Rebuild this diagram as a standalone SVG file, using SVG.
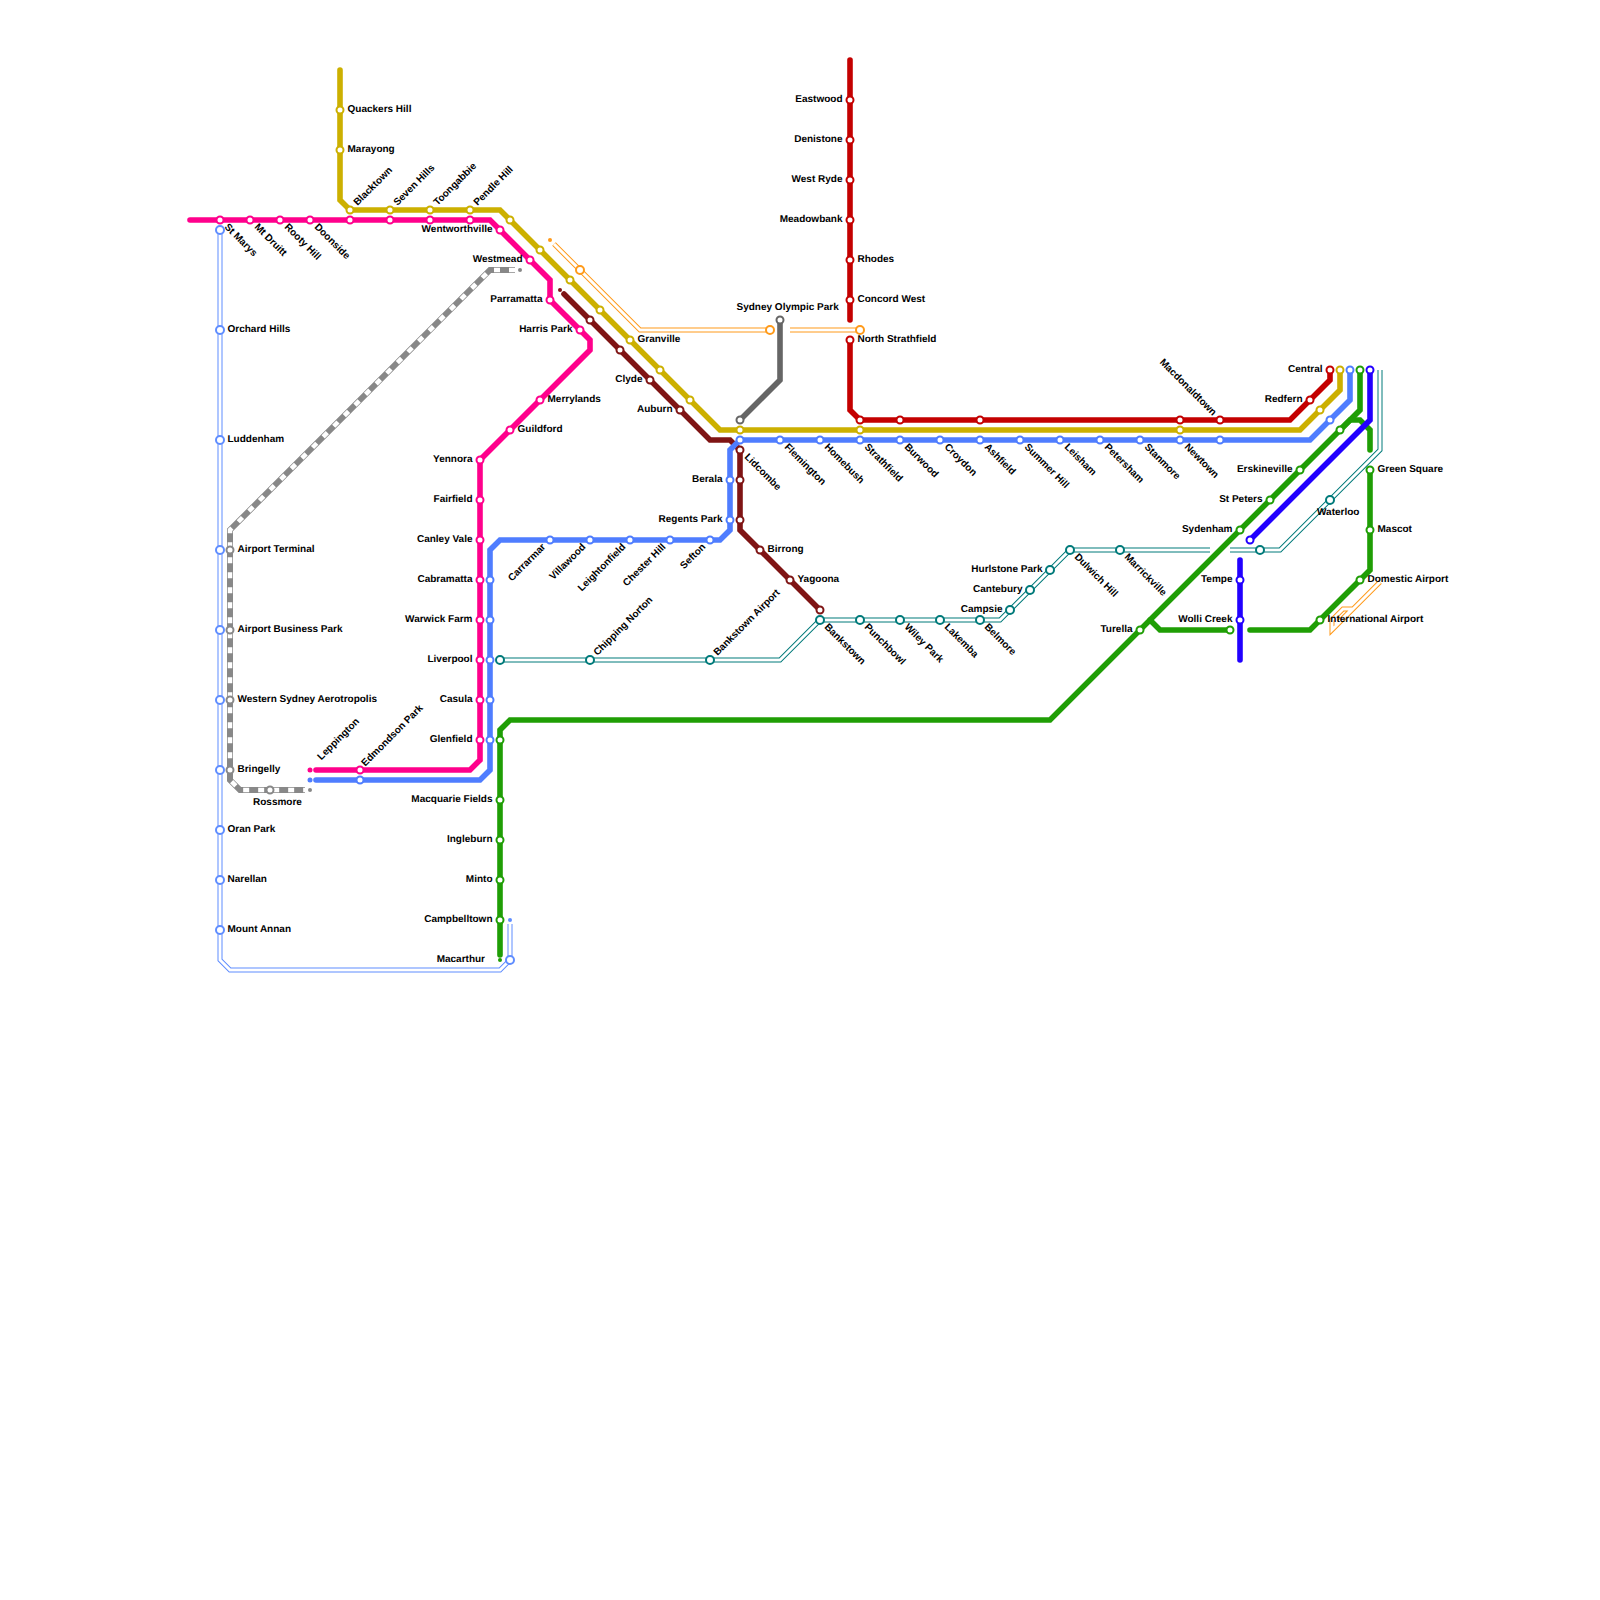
<svg xmlns="http://www.w3.org/2000/svg" width="1600" height="1600" viewBox="0 0 1600 1600">
<style>
svg{background:#fff}
.ln{fill:none;stroke-width:5.6;stroke-linecap:round;stroke-linejoin:miter}
.in{fill:none;stroke:#fff;stroke-width:3}
.db{fill:none;stroke-width:5}
.s{fill:#fff;stroke-width:2}
.b{fill:#fff;stroke-width:2}
text{font:bold 10px "Liberation Sans",Arial,sans-serif;fill:#000;text-rendering:geometricPrecision}
.e{text-anchor:end}
.pk{stroke:#ff008c}.au{stroke:#ccb000}.bl{stroke:#4f7dff}.mr{stroke:#7f1414}.rd{stroke:#c40000}.gn{stroke:#1f9e05}.ig{stroke:#2200ff}.tl{stroke:#007a7a}.gy{stroke:#888}.dg{stroke:#666}.or{stroke:#ff9a1a}.lb{stroke:#5f8dff}
.fpk{fill:#ff008c}.fbl{fill:#4f7dff}.fmr{fill:#7f1414}.fgn{fill:#1f9e05}.fgy{fill:#888}.for{fill:#ff9a1a}.flb{fill:#5f8dff}
</style>
<defs>
<circle id="st" r="3.5"/>
<circle id="bg" r="4"/>
</defs>
<g id="connectors">
<path class="db lb" d="M220,230V960L230,970H500L510,960V924"/><path class="in" d="M220,230V960L230,970H500L510,960V924"/>
<path class="db tl" d="M500,660H780L820,620H1000L1070,550H1210"/><path class="in" d="M500,660H780L820,620H1000L1070,550H1210"/>
<path class="db tl" d="M1230,550H1280L1380,450V370"/><path class="in" d="M1230,550H1280L1380,450V370"/>
<path class="db or" d="M554,244L640,330H770"/><path class="in" d="M554,244L640,330H770"/>
<path class="db or" d="M790,330H860"/><path class="in" d="M790,330H860"/>
<path class="db or" d="M1380,582L1332,630V620L1343,609H1352L1336,625V616L1343,609"/><path class="in" d="M1380,582L1332,630V620L1343,609H1352L1336,625V616L1343,609"/>
<path class="ln gy" style="stroke-linecap:butt;stroke-width:6" d="M515,270H490L230,530V780L240,790H305"/>
<path fill="none" stroke="#fff" stroke-width="4.5" stroke-dasharray="6 9" d="M515,270H490L230,530V780L240,790H305"/>
<path class="ln pk" d="M190,220H490L550,280V300L590,340V350L480,460V760L470,770H316"/>
<path class="ln au" d="M340,70V200L350,210H500L720,430H1300L1340,390V370"/>
<path class="ln mr" d="M564,294L710,440H730L740,450V530L820,610"/>
<path class="ln bl" d="M316,780H480L490,770V550L500,540H720L730,530V450L740,440H1310L1350,400V370"/>
<path class="ln dg" d="M780,320V380L740,420"/>
<path class="ln rd" d="M850,60V320"/>
<path class="ln rd" d="M850,340V410L860,420H1290L1330,380V370"/>
<path class="ln gn" d="M500,955V730L510,720H1050L1360,410V370"/>
<path class="ln gn" d="M1340,430L1350,420H1360L1370,430V450"/>
<path class="ln gn" d="M1370,470V570L1310,630H1250"/>
<path class="ln gn" d="M1150,620L1160,630H1230"/>
<path class="ln ig" d="M1370,370V420L1250,540"/>
<path class="ln ig" d="M1240,560V660"/>
</g>
<g id="nodes">
<g id="quakers-hill" transform="translate(340,110)"><use href="#st" class="s au"/><text x="7.5" y="2">Quackers Hill</text></g>
<g id="marayong" transform="translate(340,150)"><use href="#st" class="s au"/><text x="7.5" y="2">Marayong</text></g>
<g id="blacktown" transform="translate(350,210)"><use href="#st" class="s au"/><text x="8" y="2.5" transform="rotate(-45)">Blacktown</text></g>
<g id="seven-hills" transform="translate(390,210)"><use href="#st" class="s au"/><text x="8" y="2.5" transform="rotate(-45)">Seven Hills</text></g>
<g id="toongabbie" transform="translate(430,210)"><use href="#st" class="s au"/><text x="8" y="2.5" transform="rotate(-45)">Toongabbie</text></g>
<g id="pendle-hill" transform="translate(470,210)"><use href="#st" class="s au"/><text x="8" y="2.5" transform="rotate(-45)">Pendle Hill</text></g>
<g id="gold-510" transform="translate(510,220)"><use href="#st" class="s au"/></g>
<g id="gold-540" transform="translate(540,250)"><use href="#st" class="s au"/></g>
<g id="gold-570" transform="translate(570,280)"><use href="#st" class="s au"/></g>
<g id="gold-600" transform="translate(600,310)"><use href="#st" class="s au"/></g>
<g id="granville" transform="translate(630,340)"><use href="#st" class="s au"/><text x="7.5" y="2">Granville</text></g>
<g id="gold-660" transform="translate(660,370)"><use href="#st" class="s au"/></g>
<g id="gold-690" transform="translate(690,400)"><use href="#st" class="s au"/></g>
<g id="gold-740" transform="translate(740,430)"><use href="#st" class="s au"/></g>
<g id="gold-860" transform="translate(860,430)"><use href="#st" class="s au"/></g>
<g id="gold-1180" transform="translate(1180,430)"><use href="#st" class="s au"/></g>
<g id="gold-1320" transform="translate(1320,410)"><use href="#st" class="s au"/></g>
<g id="gold-1340" transform="translate(1340,370)"><use href="#st" class="s au"/></g>

<g id="st-marys" transform="translate(220,220)"><use href="#st" class="s pk"/><text x="8" y="2.5" transform="rotate(45)">St Marys</text></g>
<g id="mt-druitt" transform="translate(250,220)"><use href="#st" class="s pk"/><text x="8" y="2.5" transform="rotate(45)">Mt Druitt</text></g>
<g id="rooty-hill" transform="translate(280,220)"><use href="#st" class="s pk"/><text x="8" y="2.5" transform="rotate(45)">Rooty Hill</text></g>
<g id="doonside" transform="translate(310,220)"><use href="#st" class="s pk"/><text x="8" y="2.5" transform="rotate(45)">Doonside</text></g>
<g id="pink-350" transform="translate(350,220)"><use href="#st" class="s pk"/></g>
<g id="pink-390" transform="translate(390,220)"><use href="#st" class="s pk"/></g>
<g id="pink-430" transform="translate(430,220)"><use href="#st" class="s pk"/></g>
<g id="pink-470" transform="translate(470,220)"><use href="#st" class="s pk"/></g>
<g id="wentworthville" transform="translate(500,230)"><use href="#st" class="s pk"/><text class="e" x="-7.5" y="2">Wentworthville</text></g>
<g id="westmead" transform="translate(530,260)"><use href="#st" class="s pk"/><text class="e" x="-7.5" y="2">Westmead</text></g>
<g id="parramatta" transform="translate(550,300)"><use href="#st" class="s pk"/><text class="e" x="-7.5" y="2">Parramatta</text></g>
<g id="harris-park" transform="translate(580,330)"><use href="#st" class="s pk"/><text class="e" x="-7.5" y="2">Harris Park</text></g>
<g id="merrylands" transform="translate(540,400)"><use href="#st" class="s pk"/><text x="7.5" y="2">Merrylands</text></g>
<g id="guildford" transform="translate(510,430)"><use href="#st" class="s pk"/><text x="7.5" y="2">Guildford</text></g>
<g id="yennora" transform="translate(480,460)"><use href="#st" class="s pk"/><text class="e" x="-7.5" y="2">Yennora</text></g>
<g id="fairfield" transform="translate(480,500)"><use href="#st" class="s pk"/><text class="e" x="-7.5" y="2">Fairfield</text></g>
<g id="canley-vale" transform="translate(480,540)"><use href="#st" class="s pk"/><text class="e" x="-7.5" y="2">Canley Vale</text></g>
<g id="cabramatta" transform="translate(480,580)"><use href="#st" class="s pk"/><text class="e" x="-7.5" y="2">Cabramatta</text></g>
<g id="warwick-farm" transform="translate(480,620)"><use href="#st" class="s pk"/><text class="e" x="-7.5" y="2">Warwick Farm</text></g>
<g id="liverpool" transform="translate(480,660)"><use href="#st" class="s pk"/><text class="e" x="-7.5" y="2">Liverpool</text></g>
<g id="casula" transform="translate(480,700)"><use href="#st" class="s pk"/><text class="e" x="-7.5" y="2">Casula</text></g>
<g id="glenfield" transform="translate(480,740)"><use href="#st" class="s pk"/><text class="e" x="-7.5" y="2">Glenfield</text></g>
<g id="edmondson-park" transform="translate(360,770)"><use href="#st" class="s pk"/><text x="6" y="1.5" transform="rotate(-45)">Edmondson Park</text></g>
<g id="leppington" transform="translate(310,770)"><circle r="2.5" class="fpk"/><text x="14.8" y="1.2" transform="rotate(-45)">Leppington</text></g>

<g id="blue-dot" transform="translate(310,780)"><circle r="2.5" class="fbl"/></g>
<g id="blue-360" transform="translate(360,780)"><use href="#st" class="s bl"/></g>
<g id="blue-490-740" transform="translate(490,740)"><use href="#st" class="s bl"/></g>
<g id="blue-490-700" transform="translate(490,700)"><use href="#st" class="s bl"/></g>
<g id="blue-490-660" transform="translate(490,660)"><use href="#st" class="s bl"/></g>
<g id="blue-490-620" transform="translate(490,620)"><use href="#st" class="s bl"/></g>
<g id="blue-490-580" transform="translate(490,580)"><use href="#st" class="s bl"/></g>
<g id="carrarmar" transform="translate(550,540)"><use href="#st" class="s bl"/><text class="e" x="-8" y="2.5" transform="rotate(-45)">Carrarmar</text></g>
<g id="villawood" transform="translate(590,540)"><use href="#st" class="s bl"/><text class="e" x="-8" y="2.5" transform="rotate(-45)">Villawood</text></g>
<g id="leightonfield" transform="translate(630,540)"><use href="#st" class="s bl"/><text class="e" x="-8" y="2.5" transform="rotate(-45)">Leightonfield</text></g>
<g id="chester-hill" transform="translate(670,540)"><use href="#st" class="s bl"/><text class="e" x="-8" y="2.5" transform="rotate(-45)">Chester Hill</text></g>
<g id="sefton" transform="translate(710,540)"><use href="#st" class="s bl"/><text class="e" x="-8" y="2.5" transform="rotate(-45)">Sefton</text></g>
<g id="regents-park" transform="translate(730,520)"><use href="#st" class="s bl"/><text class="e" x="-7.5" y="2">Regents Park</text></g>
<g id="berala" transform="translate(730,480)"><use href="#st" class="s bl"/><text class="e" x="-7.5" y="2">Berala</text></g>
<g id="blue-740" transform="translate(740,440)"><use href="#st" class="s bl"/></g>
<g id="flemington" transform="translate(780,440)"><use href="#st" class="s bl"/><text x="8" y="2.5" transform="rotate(45)">Flemington</text></g>
<g id="homebush" transform="translate(820,440)"><use href="#st" class="s bl"/><text x="8" y="2.5" transform="rotate(45)">Homebush</text></g>
<g id="strathfield" transform="translate(860,440)"><use href="#st" class="s bl"/><text x="8" y="2.5" transform="rotate(45)">Strathfield</text></g>
<g id="burwood" transform="translate(900,440)"><use href="#st" class="s bl"/><text x="8" y="2.5" transform="rotate(45)">Burwood</text></g>
<g id="croydon" transform="translate(940,440)"><use href="#st" class="s bl"/><text x="8" y="2.5" transform="rotate(45)">Croydon</text></g>
<g id="ashfield" transform="translate(980,440)"><use href="#st" class="s bl"/><text x="8" y="2.5" transform="rotate(45)">Ashfield</text></g>
<g id="summer-hill" transform="translate(1020,440)"><use href="#st" class="s bl"/><text x="8" y="2.5" transform="rotate(45)">Summer Hill</text></g>
<g id="leisham" transform="translate(1060,440)"><use href="#st" class="s bl"/><text x="8" y="2.5" transform="rotate(45)">Leisham</text></g>
<g id="petersham" transform="translate(1100,440)"><use href="#st" class="s bl"/><text x="8" y="2.5" transform="rotate(45)">Petersham</text></g>
<g id="stanmore" transform="translate(1140,440)"><use href="#st" class="s bl"/><text x="8" y="2.5" transform="rotate(45)">Stanmore</text></g>
<g id="newtown" transform="translate(1180,440)"><use href="#st" class="s bl"/><text x="8" y="2.5" transform="rotate(45)">Newtown</text></g>
<g id="blue-1220" transform="translate(1220,440)"><use href="#st" class="s bl"/></g>
<g id="blue-1330" transform="translate(1330,420)"><use href="#st" class="s bl"/></g>
<g id="blue-1350" transform="translate(1350,370)"><use href="#st" class="s bl"/></g>

<g id="maroon-dot" transform="translate(560,290)"><circle r="2" class="fmr"/></g>
<g id="maroon-590" transform="translate(590,320)"><use href="#st" class="s mr"/></g>
<g id="maroon-620" transform="translate(620,350)"><use href="#st" class="s mr"/></g>
<g id="clyde" transform="translate(650,380)"><use href="#st" class="s mr"/><text class="e" x="-7.5" y="2">Clyde</text></g>
<g id="auburn" transform="translate(680,410)"><use href="#st" class="s mr"/><text class="e" x="-7.5" y="2">Auburn</text></g>
<g id="lidcombe" transform="translate(740,450)"><use href="#st" class="s mr"/><text x="8" y="2.5" transform="rotate(45)">Lidcombe</text></g>
<g id="maroon-480" transform="translate(740,480)"><use href="#st" class="s mr"/></g>
<g id="maroon-520" transform="translate(740,520)"><use href="#st" class="s mr"/></g>
<g id="birrong" transform="translate(760,550)"><use href="#st" class="s mr"/><text x="7.5" y="2">Birrong</text></g>
<g id="yagoona" transform="translate(790,580)"><use href="#st" class="s mr"/><text x="7.5" y="2">Yagoona</text></g>
<g id="maroon-820" transform="translate(820,610)"><use href="#st" class="s mr"/></g>

<g id="eastwood" transform="translate(850,100)"><use href="#st" class="s rd"/><text class="e" x="-7.5" y="2">Eastwood</text></g>
<g id="denistone" transform="translate(850,140)"><use href="#st" class="s rd"/><text class="e" x="-7.5" y="2">Denistone</text></g>
<g id="west-ryde" transform="translate(850,180)"><use href="#st" class="s rd"/><text class="e" x="-7.5" y="2">West Ryde</text></g>
<g id="meadowbank" transform="translate(850,220)"><use href="#st" class="s rd"/><text class="e" x="-7.5" y="2">Meadowbank</text></g>
<g id="rhodes" transform="translate(850,260)"><use href="#st" class="s rd"/><text x="7.5" y="2">Rhodes</text></g>
<g id="concord-west" transform="translate(850,300)"><use href="#st" class="s rd"/><text x="7.5" y="2">Concord West</text></g>
<g id="north-strathfield" transform="translate(850,340)"><use href="#st" class="s rd"/><text x="7.5" y="2">North Strathfield</text></g>
<g id="red-860" transform="translate(860,420)"><use href="#st" class="s rd"/></g>
<g id="red-900" transform="translate(900,420)"><use href="#st" class="s rd"/></g>
<g id="red-980" transform="translate(980,420)"><use href="#st" class="s rd"/></g>
<g id="red-1180" transform="translate(1180,420)"><use href="#st" class="s rd"/></g>
<g id="macdonaldtown" transform="translate(1220,420)"><use href="#st" class="s rd"/><text class="e" x="-8" y="2.5" transform="rotate(45)">Macdonaldtown</text></g>
<g id="redfern" transform="translate(1310,400)"><use href="#st" class="s rd"/><text class="e" x="-7.5" y="2">Redfern</text></g>
<g id="central" transform="translate(1330,370)"><use href="#st" class="s rd"/><text class="e" x="-7.5" y="2">Central</text></g>

<g id="sydney-olympic-park" transform="translate(780,320)"><use href="#st" class="s dg"/><text x="-43.5" y="-10">Sydney Olympic Park</text></g>
<g id="grey-dark-740" transform="translate(740,420)"><use href="#st" class="s dg"/></g>

<g id="glenfield-green" transform="translate(500,740)"><use href="#st" class="s gn"/></g>
<g id="macquarie-fields" transform="translate(500,800)"><use href="#st" class="s gn"/><text class="e" x="-7.5" y="2">Macquarie Fields</text></g>
<g id="ingleburn" transform="translate(500,840)"><use href="#st" class="s gn"/><text class="e" x="-7.5" y="2">Ingleburn</text></g>
<g id="minto" transform="translate(500,880)"><use href="#st" class="s gn"/><text class="e" x="-7.5" y="2">Minto</text></g>
<g id="campbelltown" transform="translate(500,920)"><use href="#st" class="s gn"/><text class="e" x="-7.5" y="2">Campbelltown</text></g>
<g id="macarthur" transform="translate(500,960)"><circle r="2" class="fgn"/><text class="e" x="-15" y="2">Macarthur</text></g>
<g id="turella" transform="translate(1140,630)"><use href="#st" class="s gn"/><text class="e" x="-7.5" y="2">Turella</text></g>
<g id="sydenham" transform="translate(1240,530)"><use href="#st" class="s gn"/><text class="e" x="-7.5" y="2">Sydenham</text></g>
<g id="st-peters" transform="translate(1270,500)"><use href="#st" class="s gn"/><text class="e" x="-7.5" y="2">St Peters</text></g>
<g id="erskineville" transform="translate(1300,470)"><use href="#st" class="s gn"/><text class="e" x="-7.5" y="2">Erskineville</text></g>
<g id="green-1340" transform="translate(1340,430)"><use href="#st" class="s gn"/></g>
<g id="green-1360" transform="translate(1360,370)"><use href="#st" class="s gn"/></g>
<g id="green-square" transform="translate(1370,470)"><use href="#st" class="s gn"/><text x="7.5" y="2">Green Square</text></g>
<g id="mascot" transform="translate(1370,530)"><use href="#st" class="s gn"/><text x="7.5" y="2">Mascot</text></g>
<g id="domestic-airport" transform="translate(1360,580)"><use href="#st" class="s gn"/><text x="7.5" y="2">Domestic Airport</text></g>
<g id="international-airport" transform="translate(1320,620)"><use href="#st" class="s gn"/><text x="7.5" y="2">International Airport</text></g>
<g id="wolli-creek-green" transform="translate(1230,630)"><use href="#st" class="s gn"/></g>

<g id="indigo-1370" transform="translate(1370,370)"><use href="#st" class="s ig"/></g>
<g id="indigo-1250" transform="translate(1250,540)"><use href="#st" class="s ig"/></g>
<g id="tempe" transform="translate(1240,580)"><use href="#st" class="s ig"/><text class="e" x="-7.5" y="2">Tempe</text></g>
<g id="wolli-creek" transform="translate(1240,620)"><use href="#st" class="s ig"/><text class="e" x="-7.5" y="2">Wolli Creek</text></g>

<g id="teal-500" transform="translate(500,660)"><use href="#bg" class="b tl"/></g>
<g id="chipping-norton" transform="translate(590,660)"><use href="#bg" class="b tl"/><text x="8" y="2.5" transform="rotate(-45)">Chipping Norton</text></g>
<g id="bankstown-airport" transform="translate(710,660)"><use href="#bg" class="b tl"/><text x="8" y="2.5" transform="rotate(-45)">Bankstown Airport</text></g>
<g id="bankstown" transform="translate(820,620)"><use href="#bg" class="b tl"/><text x="8" y="2.5" transform="rotate(45)">Bankstown</text></g>
<g id="punchbowl" transform="translate(860,620)"><use href="#bg" class="b tl"/><text x="8" y="2.5" transform="rotate(45)">Punchbowl</text></g>
<g id="wiley-park" transform="translate(900,620)"><use href="#bg" class="b tl"/><text x="8" y="2.5" transform="rotate(45)">Wiley Park</text></g>
<g id="lakemba" transform="translate(940,620)"><use href="#bg" class="b tl"/><text x="8" y="2.5" transform="rotate(45)">Lakemba</text></g>
<g id="belmore" transform="translate(980,620)"><use href="#bg" class="b tl"/><text x="8" y="2.5" transform="rotate(45)">Belmore</text></g>
<g id="campsie" transform="translate(1010,610)"><use href="#bg" class="b tl"/><text class="e" x="-7.5" y="2">Campsie</text></g>
<g id="cantebury" transform="translate(1030,590)"><use href="#bg" class="b tl"/><text class="e" x="-7.5" y="2">Cantebury</text></g>
<g id="hurlstone-park" transform="translate(1050,570)"><use href="#bg" class="b tl"/><text class="e" x="-7.5" y="2">Hurlstone Park</text></g>
<g id="dulwich-hill" transform="translate(1070,550)"><use href="#bg" class="b tl"/><text x="8" y="2.5" transform="rotate(45)">Dulwich Hill</text></g>
<g id="marrickville" transform="translate(1120,550)"><use href="#bg" class="b tl"/><text x="8" y="2.5" transform="rotate(45)">Marrickville</text></g>
<g id="teal-1260" transform="translate(1260,550)"><use href="#bg" class="b tl"/></g>
<g id="waterloo" transform="translate(1330,500)"><use href="#bg" class="b tl"/><text x="-13" y="14.5">Waterloo</text></g>

<g id="orange-580" transform="translate(580,270)"><use href="#bg" class="b or"/></g>
<g id="orange-770" transform="translate(770,330)"><use href="#bg" class="b or"/></g>
<g id="orange-860" transform="translate(860,330)"><use href="#bg" class="b or"/></g>
<g id="orange-dot" transform="translate(550,240)"><circle r="2" class="for"/></g>

<g id="lb-230" transform="translate(220,230)"><use href="#bg" class="b lb"/></g>
<g id="orchard-hills" transform="translate(220,330)"><use href="#bg" class="b lb"/><text x="7.5" y="2">Orchard Hills</text></g>
<g id="luddenham" transform="translate(220,440)"><use href="#bg" class="b lb"/><text x="7.5" y="2">Luddenham</text></g>
<g id="lb-550" transform="translate(220,550)"><use href="#bg" class="b lb"/></g>
<g id="lb-630" transform="translate(220,630)"><use href="#bg" class="b lb"/></g>
<g id="lb-700" transform="translate(220,700)"><use href="#bg" class="b lb"/></g>
<g id="lb-770" transform="translate(220,770)"><use href="#bg" class="b lb"/></g>
<g id="oran-park" transform="translate(220,830)"><use href="#bg" class="b lb"/><text x="7.5" y="2">Oran Park</text></g>
<g id="narellan" transform="translate(220,880)"><use href="#bg" class="b lb"/><text x="7.5" y="2">Narellan</text></g>
<g id="mount-annan" transform="translate(220,930)"><use href="#bg" class="b lb"/><text x="7.5" y="2">Mount Annan</text></g>
<g id="lb-510" transform="translate(510,960)"><use href="#bg" class="b lb"/></g>
<g id="lb-dot" transform="translate(510,920)"><circle r="2" class="flb"/></g>

<g id="airport-terminal" transform="translate(230,550)"><use href="#st" class="s gy"/><text x="7.5" y="2">Airport Terminal</text></g>
<g id="airport-business-park" transform="translate(230,630)"><use href="#st" class="s gy"/><text x="7.5" y="2">Airport Business Park</text></g>
<g id="western-sydney-aerotropolis" transform="translate(230,700)"><use href="#st" class="s gy"/><text x="7.5" y="2">Western Sydney Aerotropolis</text></g>
<g id="bringelly" transform="translate(230,770)"><use href="#st" class="s gy"/><text x="7.5" y="2">Bringelly</text></g>
<g id="rossmore" transform="translate(270,790)"><use href="#st" class="s gy"/><text x="-17" y="14.5">Rossmore</text></g>
<g id="grey-dot-1" transform="translate(310,790)"><circle r="2" class="fgy"/></g>
<g id="grey-dot-2" transform="translate(520,270)"><circle r="2" class="fgy"/></g>
</g>
</svg>
